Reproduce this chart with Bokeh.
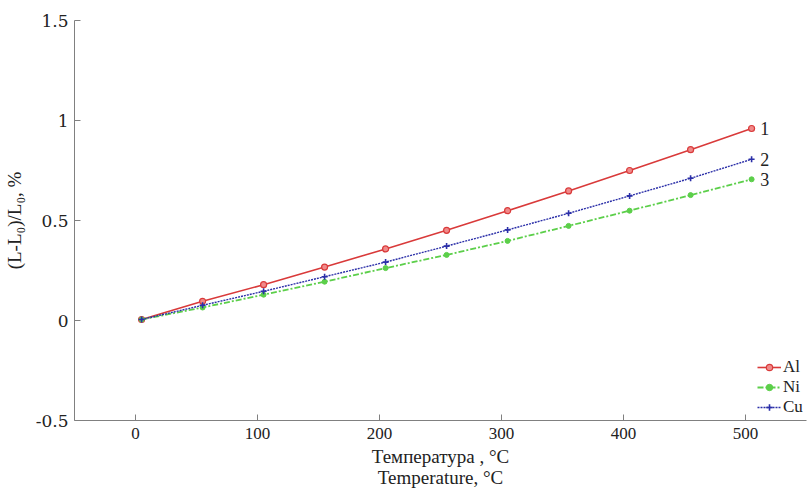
from bokeh.plotting import figure
from bokeh.embed import file_html
from bokeh.resources import INLINE
from bokeh.models import Range1d, FixedTicker, Legend, LegendItem, LinearAxis
from bokeh.core.properties import value

temps = [5, 55, 105, 155, 205, 255, 305, 355, 405, 455, 505]
al = [0.005, 0.096, 0.179, 0.267, 0.358, 0.451, 0.549, 0.648, 0.750, 0.854, 0.960]
cu = [0.005, 0.076, 0.146, 0.219, 0.292, 0.372, 0.453, 0.536, 0.623, 0.711, 0.806]
ni = [0.005, 0.065, 0.129, 0.194, 0.262, 0.328, 0.398, 0.473, 0.549, 0.627, 0.706]
curve_labels = ["1", "2", "3"]
x_ticks = [0, 100, 200, 300, 400, 500]
y_ticks = [-0.5, 0, 0.5, 1, 1.5]
y_tick_labels = ["-0.5", "0", "0.5", "1", "1.5"]
x_title = "Температура , °C\nTemperature, °C"

FONT = "Liberation Serif"
RED = "#d93a3a"
GREEN = "#5ccf4a"
BLUE = "#2b2fa8"

p = figure(width=808, height=490, output_backend="svg", toolbar_location=None,
           x_range=Range1d(-50, 550), y_range=Range1d(-0.5, 1.5),
           x_axis_location=None, y_axis_location=None,
           min_border_left=73, min_border_right=2, min_border_top=20, min_border_bottom=68)
p.outline_line_color = None
p.xgrid.visible = False
p.ygrid.visible = False
p.background_fill_color = "white"
p.border_fill_color = "white"

common = dict(axis_line_color="#808080", major_tick_line_color="#808080",
              major_tick_in=6, major_tick_out=0, minor_tick_line_color=None,
              major_label_text_font_size="17px",
              major_label_text_font_style="normal", major_label_text_color="#222222",
              axis_label_text_font=FONT, axis_label_text_font_size="19px",
              axis_label_text_font_style="normal", axis_label_text_color="#222222")

xax = LinearAxis(ticker=FixedTicker(ticks=x_ticks), axis_label=x_title,
                 major_label_text_font="Times New Roman",
                 major_label_standoff=7, axis_label_standoff=4,
                 axis_label_text_line_height=1.0, **common)
yax = LinearAxis(ticker=FixedTicker(ticks=y_ticks), axis_label="(L-L\u2080)/L\u2080, %",
                 major_label_text_font="DejaVu Serif",
                 major_label_standoff=6, axis_label_standoff=8,
                 major_label_overrides={t: s for t, s in zip(y_ticks, y_tick_labels)},
                 **common)
p.add_layout(xax, "below")
p.add_layout(yax, "left")

l_al = p.line(temps, al, line_color=RED, line_width=1.6)
m_al = p.scatter(temps, al, marker="circle", size=6, line_color=RED, fill_color="#f08a8a", line_width=1.2)
l_ni = p.line(temps, ni, line_color=GREEN, line_width=1.8, line_dash="6 2 2 2")
m_ni = p.scatter(temps, ni, marker="circle", size=5, line_color=GREEN, fill_color=GREEN)
l_cu = p.line(temps, cu, line_color=BLUE, line_width=1.4, line_dash="2 1")
m_cu = p.scatter(temps, cu, marker="cross", size=6, line_color=BLUE, line_width=1.6)

p.text(x=[512, 512, 512], y=[al[-1], cu[-1], ni[-1]], text=curve_labels,
       text_font=value(FONT), text_font_size="18px", text_color="#222222",
       text_baseline="middle", text_align="left")

legend = Legend(items=[
    LegendItem(label="Al", renderers=[l_al, m_al]),
    LegendItem(label="Ni", renderers=[l_ni, m_ni]),
    LegendItem(label="Cu", renderers=[l_cu, m_cu]),
], location="bottom_right")
legend.border_line_color = None
legend.background_fill_alpha = 0
legend.label_text_font = FONT
legend.label_text_font_size = "17px"
legend.label_text_color = "#222222"
legend.glyph_width = 24
legend.label_standoff = 2
legend.spacing = -3
legend.padding = 2
legend.margin = 3
legend.label_height = 16
legend.glyph_height = 16
p.add_layout(legend)

open("out.html", "w").write(file_html(p, INLINE))
